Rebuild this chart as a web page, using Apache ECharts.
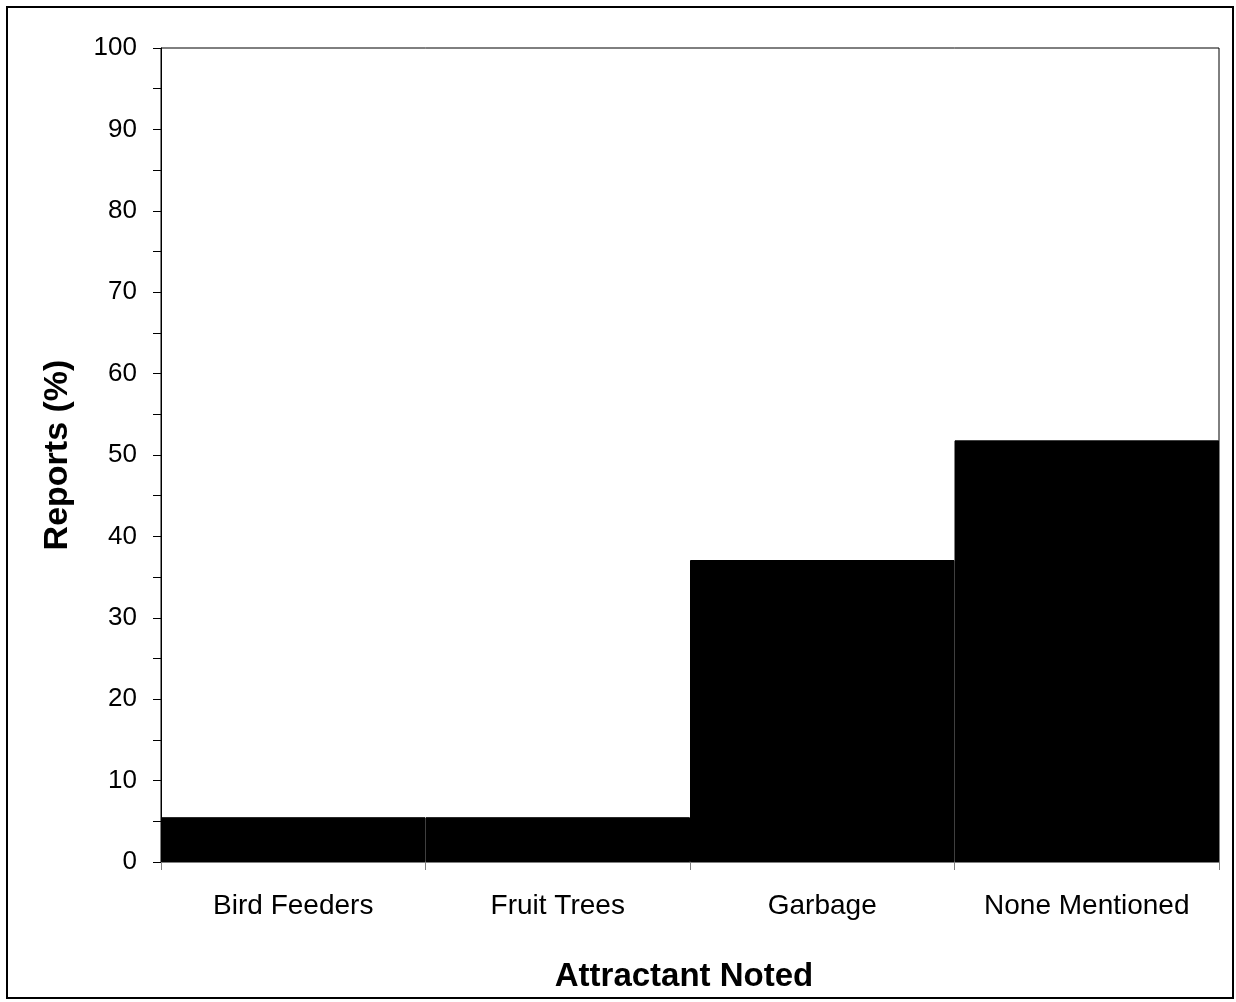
<!DOCTYPE html>
<html>
<head>
<meta charset="utf-8">
<script src="https://cdn.jsdelivr.net/npm/echarts@6/dist/echarts.min.js"></script>
<style>
html,body{margin:0;padding:0;background:#fff;}
#chart{width:1236px;height:1002px;}
</style>
</head>
<body>
<div id="chart"></div>
<script>
const categories = ['Bird Feeders', 'Fruit Trees', 'Garbage', 'None Mentioned'];
const reports = [5.5, 5.5, 37.1, 51.8];
const xAxisTitle = 'Attractant Noted';
const yAxisTitle = 'Reports (%)';

const chart = echarts.init(document.getElementById('chart'), null, {renderer: 'canvas'});
const font = 'Liberation Sans, Arial, sans-serif';
chart.setOption({
  animation: false,
  backgroundColor: '#fff',
  graphic: [{
    type: 'rect',
    shape: {x: 7, y: 7, width: 1226, height: 991},
    style: {fill: 'none', stroke: '#000', lineWidth: 2},
    z: 100
  }],
  grid: {
    left: 161, top: 48, right: 17, bottom: 140,
    show: true, borderColor: '#000', borderWidth: 1, backgroundColor: 'transparent'
  },
  xAxis: {
    type: 'category',
    data: categories,
    name: xAxisTitle,
    nameLocation: 'middle',
    nameGap: 98,
    nameTextStyle: {fontFamily: font, fontSize: 33, fontWeight: 'bold', color: '#000', padding: [0, 12, 0, 0]},
    axisLine: {lineStyle: {color: '#808080', width: 1}},
    axisTick: {show: true, interval: 0, length: 8, lineStyle: {color: '#808080'}},
    axisLabel: {interval: 0, fontFamily: font, fontSize: 28, color: '#000', margin: 30},
    splitLine: {show: false}
  },
  yAxis: {
    type: 'value',
    min: 0, max: 100, interval: 10,
    name: yAxisTitle,
    nameLocation: 'middle',
    nameGap: 86,
    nameRotate: 90,
    nameTextStyle: {fontFamily: font, fontSize: 34, fontWeight: 'bold', color: '#000'},
    axisLine: {show: true, lineStyle: {color: '#000', width: 1}},
    axisTick: {show: true, length: 8, lineStyle: {color: '#000'}},
    minorTick: {show: true, splitNumber: 2, length: 8, lineStyle: {color: '#000'}},
    axisLabel: {fontFamily: font, fontSize: 26, color: '#000', margin: 24},
    splitLine: {show: false}
  },
  series: [{
    type: 'bar',
    data: reports,
    barCategoryGap: '0%',
    itemStyle: {color: '#000', borderColor: '#000', borderWidth: 1}
  }]
});
</script>
</body>
</html>
